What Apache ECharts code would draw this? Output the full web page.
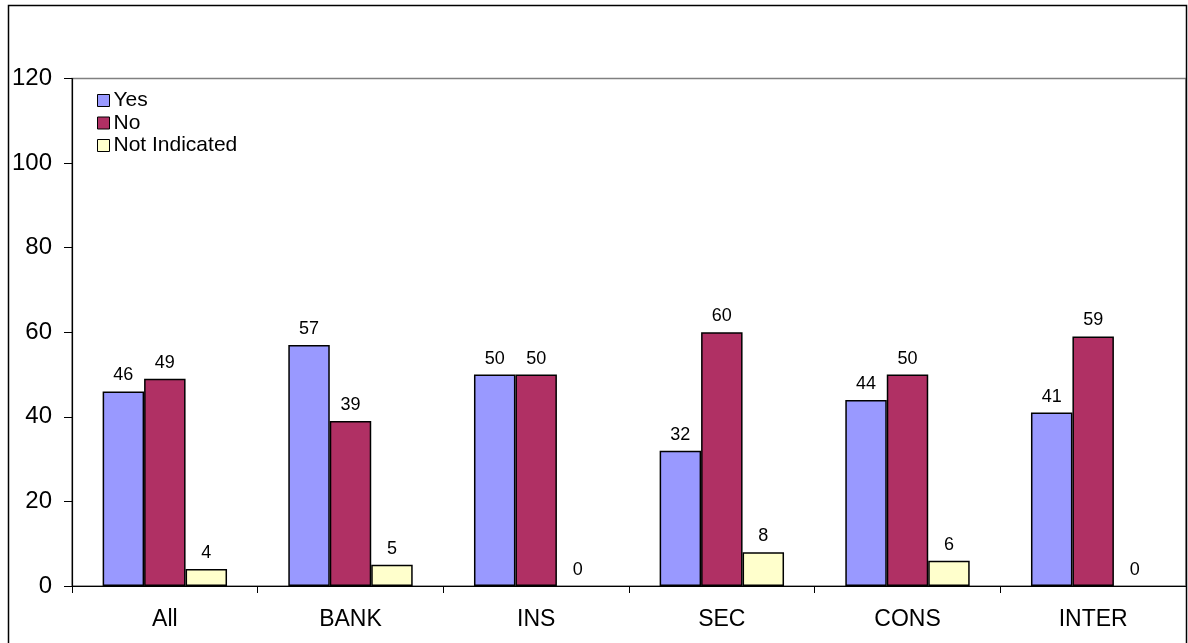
<!DOCTYPE html>
<html>
<head>
<meta charset="utf-8">
<script src="https://cdn.jsdelivr.net/npm/echarts@6/dist/echarts.min.js"></script>
<style>
  html, body { margin: 0; padding: 0; background: #fff; }
  #chart { width: 1188px; height: 643px; }
</style>
</head>
<body>
<div id="chart"></div>
<script>
// Survey responses by sector (percent)
const categories = ['All', 'BANK', 'INS', 'SEC', 'CONS', 'INTER'];
const yesValues = [46, 57, 50, 32, 44, 41];
const noValues = [49, 39, 50, 60, 50, 59];
const notIndicatedValues = [4, 5, 0, 8, 6, 0];
const yTicks = { min: 0, max: 120, interval: 20 };

const FONT = '"Liberation Sans", Arial, sans-serif';

function barSeries(name, data, color) {
  return {
    name: name,
    type: 'bar',
    // zero-height bars get no outline, only their label
    data: data.map(v => v === 0 ? { value: v, itemStyle: { borderWidth: 0 } } : v),
    barGap: '0%',
    barCategoryGap: '33%',
    itemStyle: { color: color, borderColor: '#000', borderWidth: 1.5 },
    label: {
      show: true,
      position: 'top',
      distance: 7,
      color: '#000',
      fontFamily: FONT,
      fontSize: 18
    }
  };
}

const chart = echarts.init(document.getElementById('chart'), null, { renderer: 'canvas' });
chart.setOption({
  animation: false,
  backgroundColor: '#fff',
  textStyle: { fontFamily: FONT },
  graphic: [{
    type: 'rect',
    shape: { x: 8.5, y: 5.5, width: 1178, height: 700 },
    style: { fill: 'none', stroke: '#000', lineWidth: 1.5 },
    z: 100
  }],
  grid: {
    left: 72, top: 78.5, right: 2, bottom: 57,
    show: true, borderColor: '#808080', borderWidth: 1.5, backgroundColor: 'transparent'
  },
  legend: {
    orient: 'vertical',
    left: 92, top: 85,
    itemWidth: 12, itemHeight: 12,
    itemGap: 1.5,
    icon: 'rect',
    itemStyle: { borderColor: '#000', borderWidth: 1 },
    textStyle: { fontFamily: FONT, fontSize: 21, color: '#000', lineHeight: 20, padding: [0, 0, 0, -1] },
    data: ['Yes', 'No', 'Not Indicated']
  },
  xAxis: {
    type: 'category',
    data: categories,
    boundaryGap: true,
    axisLine: { lineStyle: { color: '#000', width: 1.2 } },
    axisTick: { show: true, length: 7, alignWithLabel: false, lineStyle: { color: '#000' } },
    axisLabel: { color: '#000', fontFamily: FONT, fontSize: 23, margin: 22 }
  },
  yAxis: {
    type: 'value',
    min: yTicks.min, max: yTicks.max, interval: yTicks.interval,
    axisLine: { show: true, lineStyle: { color: '#000', width: 1.2 } },
    axisTick: { show: true, length: 8, lineStyle: { color: '#000' } },
    axisLabel: { color: '#000', fontFamily: FONT, fontSize: 24, margin: 20 },
    splitLine: { show: false }
  },
  series: [
    barSeries('Yes', yesValues, '#9999FF'),
    barSeries('No', noValues, '#B03064'),
    barSeries('Not Indicated', notIndicatedValues, '#FFFFCC')
  ]
});
</script>
</body>
</html>
